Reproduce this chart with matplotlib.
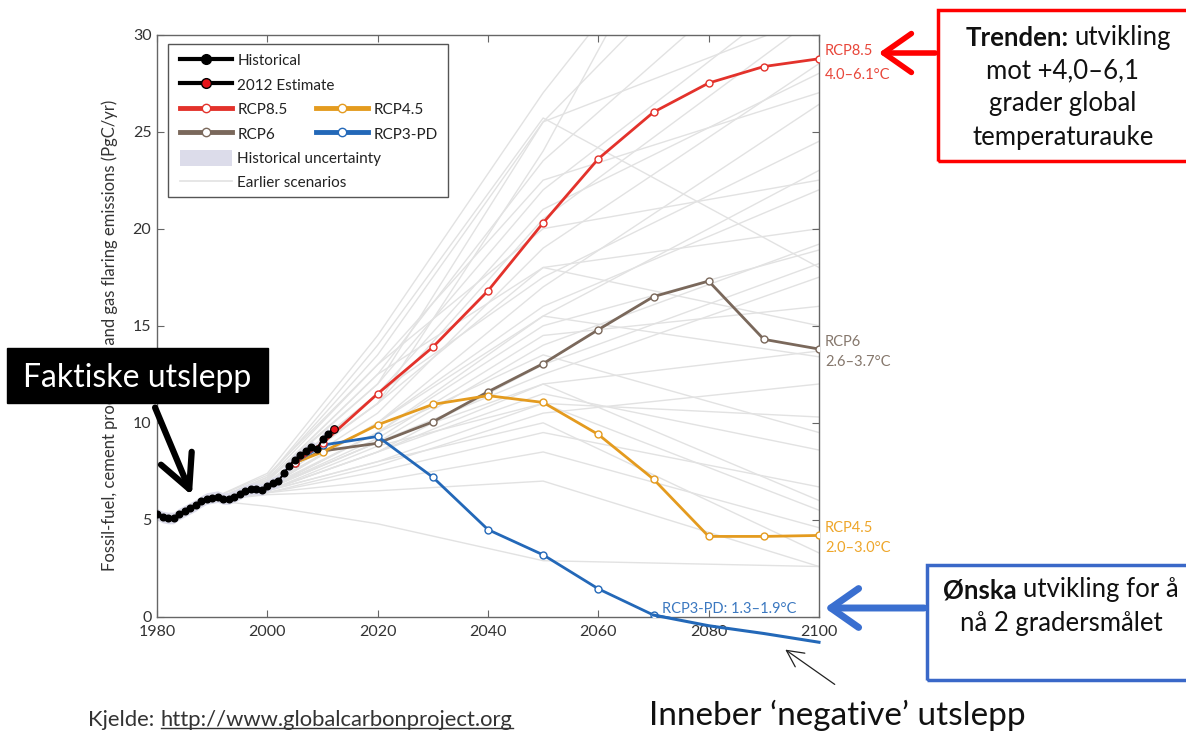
"""Global fossil-fuel emissions vs. RCP scenarios, with Norwegian slide annotations."""
import matplotlib

matplotlib.use("Agg")

import matplotlib.pyplot as plt
from matplotlib.lines import Line2D
from matplotlib.patches import FancyArrowPatch, Patch, Rectangle

plt.rcParams["font.family"] = ["Lato", "DejaVu Sans"]

W, H = 1186, 731  # output size in pixels (dpi 100)

# ---- data (PgC/yr) --------------------------------------------------------
hist_years = list(range(1980, 2012))
hist_values = [5.30, 5.15, 5.10, 5.10, 5.30, 5.45, 5.60, 5.75, 5.95, 6.10,
               6.15, 6.20, 6.10, 6.10, 6.20, 6.35, 6.50, 6.60, 6.60, 6.55,
               6.75, 6.90, 7.00, 7.40, 7.80, 8.10, 8.35, 8.55, 8.75, 8.65,
               9.15, 9.45]
hist_uncertainty = 0.3
estimate_year = 2012
estimate_value = 9.7

rcp_years = [2005, 2010, 2020, 2030, 2040, 2050, 2060, 2070, 2080, 2090, 2100]
rcp85 = [7.95, 8.95, 11.5, 13.9, 16.8, 20.3, 23.6, 26.0, 27.5, 28.35, 28.75]
rcp6 = [7.95, 8.55, 8.95, 10.05, 11.6, 13.05, 14.8, 16.5, 17.3, 14.3, 13.8]
rcp45 = [7.95, 8.5, 9.9, 10.95, 11.4, 11.05, 9.4, 7.1, 4.15, 4.15, 4.2]
rcp3pd = [7.95, 8.85, 9.3, 7.2, 4.5, 3.2, 1.45, 0.1, -0.45, -0.85, -1.3]

scenario_years = [1990, 2000, 2020, 2050, 2100]
earlier_scenarios = [
    [6.0, 7.0, 12.5, 23.5, 36.0],
    [6.0, 7.2, 13.5, 25.5, 40.0],
    [6.1, 7.4, 14.5, 27.0, 45.0],
    [6.0, 7.1, 12.0, 22.0, 33.0],
    [6.0, 6.9, 11.0, 20.5, 31.0],
    [6.0, 6.8, 10.5, 19.0, 28.5],
    [6.0, 6.8, 10.0, 17.0, 26.4],
    [6.0, 6.6, 9.5, 15.5, 23.0],
    [6.0, 6.7, 10.0, 16.0, 22.0],
    [6.0, 6.6, 9.0, 14.0, 19.2],
    [6.0, 6.7, 9.5, 15.0, 18.9],
    [6.0, 6.5, 8.5, 13.0, 18.2],
    [6.0, 6.6, 9.0, 12.5, 17.5],
    [6.0, 6.5, 8.5, 12.0, 13.7],
    [6.0, 6.7, 10.0, 15.5, 13.4],
    [6.0, 6.5, 8.0, 11.0, 10.3],
    [6.0, 6.6, 9.5, 13.5, 9.5],
    [6.0, 6.5, 8.5, 11.5, 8.6],
    [6.0, 6.4, 7.5, 9.5, 6.7],
    [6.0, 6.6, 9.0, 12.0, 6.0],
    [6.0, 6.4, 7.0, 8.5, 4.6],
    [6.0, 6.5, 8.0, 10.0, 3.3],
    [6.0, 6.3, 6.5, 7.0, 2.6],
    [6.0, 5.7, 4.8, 2.9, 2.6],
    [6.0, 6.8, 11.5, 21.0, 28.0],
    [6.1, 7.3, 13.0, 20.0, 22.5],
    [6.0, 7.0, 12.0, 25.5, 31.0],
    [6.0, 6.9, 11.0, 18.0, 20.0],
    [6.0, 6.5, 8.8, 11.0, 5.5],
    [6.0, 6.6, 9.2, 14.5, 16.0],
    [6.0, 6.4, 7.8, 10.5, 12.0],
    [6.0, 6.8, 11.0, 24.0, 50.0],
    [6.0, 7.0, 12.5, 18.0, 15.0],
    [6.0, 7.2, 14.0, 25.7, 18.0],
    [6.0, 7.1, 13.0, 22.5, 27.0],
    [6.0, 6.9, 11.5, 17.5, 24.5],
]

C85, C6, C45, C3 = "#e3322b", "#7a685b", "#e49b1f", "#2368b8"
GREY = "#e2e2e2"
SLIDE_FS = 18.5


def fx(x):
    return x / W


def fy(y):
    return 1 - y / H


def arrow(p0, p1, head_len, head_w, lw, color):
    # p0 -> p1 in picture pixels (top-left origin)
    fig.add_artist(FancyArrowPatch(
        (p0[0], H - p0[1]), (p1[0], H - p1[1]), transform=None,
        arrowstyle=f"->,head_length={head_len},head_width={head_w}",
        mutation_scale=20, lw=lw, color=color, zorder=21))


def bold_lead_line(bold, rest, xc, y):
    """One centred line whose first word is bold."""
    tb = fig.text(0, fy(y), bold, fontsize=SLIDE_FS, fontweight="bold",
                  ha="left", va="center", color="#111111")
    tr = fig.text(0, fy(y), rest, fontsize=SLIDE_FS, ha="left", va="center",
                  color="#111111")
    r = fig.canvas.get_renderer()
    wb = tb.get_window_extent(r).width
    wr = tr.get_window_extent(r).width
    gap = 6
    x0 = xc - (wb + gap + wr) / 2
    tb.set_x(fx(x0))
    tr.set_x(fx(x0 + wb + gap))


fig = plt.figure(figsize=(W / 100, H / 100), dpi=100)
ax = fig.add_axes([fx(157), fy(617), (819 - 157) / W, (617 - 34.5) / H])

for vals in earlier_scenarios:
    ax.plot(scenario_years, vals, color=GREY, lw=1.0, zorder=1)

lower = [v - hist_uncertainty for v in hist_values]
upper = [v + hist_uncertainty for v in hist_values]
ax.fill_between(hist_years, lower, upper, color="#dcdcea", lw=0, zorder=2)

for vals, col in [(rcp6, C6), (rcp45, C45), (rcp3pd, C3), (rcp85, C85)]:
    ax.plot(rcp_years, vals, color=col, lw=2, marker="o", ms=5,
            mfc="white", mec=col, mew=1, zorder=3)

# the slide extends RCP3-PD below the axis ("negative" emissions)
i70 = rcp_years.index(2070)
ax.plot(rcp_years[i70:], rcp3pd[i70:], color=C3, lw=2.2, clip_on=False, zorder=3)

ax.plot(hist_years + [estimate_year], hist_values + [estimate_value],
        color="black", lw=1.5, zorder=4)
ax.plot(hist_years, hist_values, "o", color="black", ms=4.8, zorder=5)
ax.plot([estimate_year], [estimate_value], "o", mfc="#e8141a", mec="black",
        ms=5.5, mew=0.8, zorder=5)

ax.set_xlim(1980, 2100)
ax.set_ylim(0, 30)
ax.set_xticks(range(1980, 2101, 20))
ax.set_yticks(range(0, 31, 5))
ax.tick_params(direction="in", length=5, top=True, right=True, labelsize=11.5,
               color="#666666", labelcolor="#333333")
ax.tick_params(axis="x", pad=6)
ax.tick_params(axis="y", pad=4)
for sp in ax.spines.values():
    sp.set_color("#666666")
    sp.set_linewidth(1.0)
ax.set_ylabel("Fossil-fuel, cement production and gas flaring emissions (PgC/yr)",
              fontsize=12, color="#333333")
ax.yaxis.set_label_coords(-(157 - 118) / 662, (617 - 335) / 582.5)

# scenario end labels
lab_x = 1 + 6 / 662
for txt, y, col in [("RCP8.5", 29.15, "#e8463a"), ("4.0\u20136.1°C", 27.9, "#e8463a"),
                    ("RCP6", 14.18, "#85776c"), ("2.6\u20133.7°C", 13.15, "#85776c"),
                    ("RCP4.5", 4.58, "#eea62a"), ("2.0\u20133.0°C", 3.55, "#eea62a")]:
    ax.text(lab_x, y, txt, color=col, fontsize=10.5, ha="left", va="center",
            transform=ax.get_yaxis_transform(), clip_on=False)
ax.text(2071.5, 0.42, "RCP3-PD: 1.3\u20131.9°C", color="#3b78c0", fontsize=10.5,
        ha="left", va="center")

# legend: one shared frame + two frameless legends
ax.add_patch(Rectangle((fx(168), fy(197)), (448 - 168) / W, (197 - 44) / H,
                       transform=fig.transFigure, facecolor="white",
                       edgecolor="#555555", lw=1.0, zorder=10, clip_on=False))


def rcp_handle(col):
    return Line2D([], [], color=col, lw=3.5, marker="o", ms=6, mfc="white",
                  mec=col, mew=1)


h1 = [Line2D([], [], color="black", lw=3, marker="o", ms=7),
      Line2D([], [], color="black", lw=3, marker="o", ms=7, mfc="#e8141a", mec="black"),
      rcp_handle(C85), rcp_handle(C6),
      Patch(facecolor="#dcdcea", edgecolor="none"),
      Line2D([], [], color=GREY, lw=1.2)]
l1 = ["Historical", "2012 Estimate", "RCP8.5", "RCP6", "Historical uncertainty",
      "Earlier scenarios"]
leg_kw = dict(loc="upper left", bbox_transform=fig.transFigure, frameon=False,
              fontsize=11, borderpad=0, borderaxespad=0, handlelength=3.4,
              handletextpad=0.35, handleheight=1.2, labelspacing=0.55)
leg1 = ax.legend(h1, l1, bbox_to_anchor=(fx(180), fy(52.5)), **leg_kw)
leg1.set_zorder(11)
ax.add_artist(leg1)
leg2 = ax.legend([rcp_handle(C45), rcp_handle(C3)], ["RCP4.5", "RCP3-PD"],
                 bbox_to_anchor=(fx(316), fy(101.5)), **leg_kw)
leg2.set_zorder(11)
for lg in (leg1, leg2):
    for t in lg.get_texts():
        t.set_color("#222222")

# ---- slide annotations ----------------------------------------------------
fig.add_artist(Rectangle((fx(7), fy(403)), 261 / W, 55 / H, transform=fig.transFigure,
                         facecolor="black", edgecolor="black", zorder=20))
fig.text(fx(137), fy(378), "Faktiske utslepp", color="white", fontsize=23,
         ha="center", va="center", zorder=21)
arrow((154, 405), (193, 498), 1.2, 0.6, 4.5, "black")

# red box
fig.add_artist(Rectangle((fx(938), fy(161)), (1195 - 938) / W, (161 - 10) / H,
                         transform=fig.transFigure, fill=False, edgecolor="#ff0000",
                         lw=2.5, zorder=20))
bold_lead_line("Trenden:", "utvikling", 1068, 38)
for txt, y in [("mot +4,0\u20136,1", 71), ("grader global", 104), ("temperaturauke", 137)]:
    fig.text(fx(1063), fy(y), txt, fontsize=SLIDE_FS, ha="center", va="center",
             color="#111111")
arrow((938, 53), (876, 53), 1.0, 0.7, 4, "#ff0000")

# blue box
fig.add_artist(Rectangle((fx(927), fy(680)), (1195 - 927) / W, (680 - 565) / H,
                         transform=fig.transFigure, fill=False, edgecolor="#3a68c8",
                         lw=2.5, zorder=20))
bold_lead_line("Ønska", "utvikling for å", 1061, 590)
fig.text(fx(1061), fy(623), "nå 2 gradersmålet", fontsize=SLIDE_FS, ha="center",
         va="center", color="#111111")
arrow((927, 608), (822, 608), 1.0, 0.7, 5, "#3a6fd0")

# negative emissions note
arrow((837, 686), (783, 648), 0.6, 0.3, 0.9, "#222222")
fig.text(fx(837), fy(715), "Inneber \u2018negative\u2019 utslepp", fontsize=24,
         ha="center", va="center", color="#111111")

# source line with underlined URL
fig.text(fx(88), fy(720), "Kjelde:", fontsize=15.8, ha="left", va="center",
         color="#333333")
url = fig.text(fx(161), fy(720), "http://www.globalcarbonproject.org", fontsize=15.8,
               ha="left", va="center", color="#333333")
fig.canvas.draw()
bb = url.get_window_extent()
fig.add_artist(Line2D([bb.x0 / W, bb.x1 / W], [(bb.y0 + 2) / H] * 2,
                      transform=fig.transFigure, color="#333333", lw=1))

fig.savefig("out.png", dpi=100)
